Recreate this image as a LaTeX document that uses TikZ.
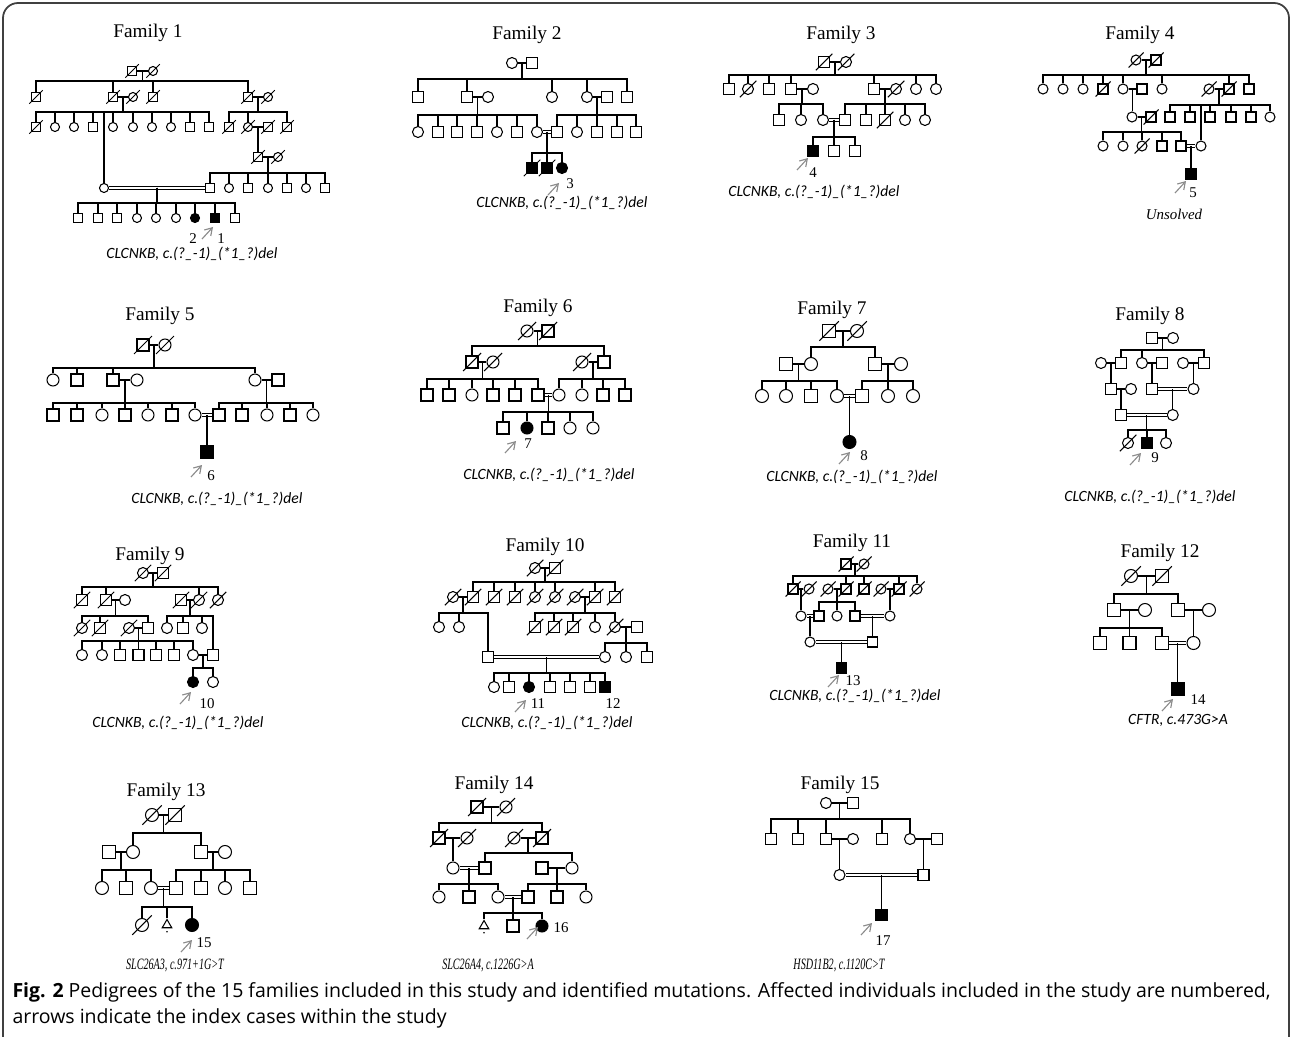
\documentclass[tikz,border=0pt]{standalone}
\usepackage{graphicx}
\usepackage{fontspec}
\setmainfont{Liberation Serif}
\newfontfamily\calfont{Carlito}
\newfontfamily\capfont{Open Sans}
\usetikzlibrary{arrows.meta,calc,shapes.geometric}

% symbol size (changed per family)
\newcommand\symsz{0.2cm}
% couple, consanguineous couple, descent, sibship, index arrow
\newcommand\pcouple[3]{\draw (#1.east) -- (#2.west) coordinate[midway] (#3);}
\newcommand\pcons[3]{\draw[double, double distance=1.5pt] (#1.east) -- (#2.west) coordinate[midway] (#3);}
\newcommand\pdesc[2]{\draw (#1) -- (#1 |- #2.north);}
\newcommand\psibs[3]{\foreach \ch in {#3} {\draw (#1) -- (#1 |- 0,#2) -| (\ch.north);}}
\newcommand\pprb[1]{\draw[prb] (#1) -- ++(11,-12);}

\tikzset{
  ind/.style={draw, inner sep=0pt, minimum size=\symsz},
  sq/.style={ind, rectangle},
  ci/.style={ind, circle},
  sqa/.style={sq, fill=black},
  cia/.style={ci, fill=black},
  dead/.style={append after command={
      ([shift={(-0.75*\symsz,-0.75*\symsz)}]\tikzlastnode.center) edge
      ([shift={(0.75*\symsz,0.75*\symsz)}]\tikzlastnode.center)}},
  sqd/.style={sq, dead},
  cid/.style={ci, dead},
  sqad/.style={sqa, dead},
  tri/.style={draw, regular polygon, regular polygon sides=3, inner sep=0pt, minimum size=0.22cm},
  ttl/.style={font=\fontsize{11}{13}\selectfont, inner sep=0pt},
  num/.style={font=\fontsize{8.5}{10}\selectfont, inner sep=0pt},
  mut/.style={font=\calfont\itshape\fontsize{8.9}{10}\selectfont, inner sep=0pt},
  mutb/.style={font=\itshape\fontsize{9}{10}\selectfont, inner sep=0pt},
  capt/.style={font=\capfont\fontsize{11.1}{13}\selectfont, inner sep=0pt, anchor=west},
  prb/.style={->, gray!90, line width=0.65pt},
}

\begin{document}
\begin{tikzpicture}[x=0.02cm, y=-0.02cm, line width=0.6pt, >={Straight Barb[length=4pt,width=5pt]}]

  \useasboundingbox (0,0) rectangle (1292,1037);
  % frame
  \draw[line width=1pt, black!75, rounded corners=0.3cm] (3,1037) -- (3,3) -- (1289,3) -- (1289,1037);

  %-------------------------
  % Family 1
  %-------------------------
  \renewcommand\symsz{0.18cm}
  \node[ttl] (t1) at (148,33) {Family 1};
  \node[sqd] (A1a) at (132,71) {};
  \node[cid] (A1b) at (153,71) {};
  \pcouple{A1a}{A1b}{A1x}
  \foreach \n/\x/\s in {a/36/sqd,b/113/sqd,c/133/cid,d/153/sqd,e/248/sqd,f/268/cid}
    \node[\s] (A2\n) at (\x,97) {};
  \psibs{A1x}{81}{A2a,A2b,A2d,A2e}
  \pcouple{A2b}{A2c}{A2x}
  \pcouple{A2e}{A2f}{A2y}
  \foreach \n/\x/\s in {a/36/sqd,b/55/ci,c/74/ci,d/93/sq,e/113/ci,f/133/ci,g/152/ci,h/171/ci,i/190/sq,j/209/sq,k/229/sqd,l/248/cid,m/268/sqd,n/287/sqd}
    \node[\s] (A3\n) at (\x,127) {};
  \node[sqd] (A4a) at (258,157) {};
  \node[cid] (A4b) at (278,157) {};
  \foreach \n/\x/\s in {a/104/ci,b/210/sq,c/229/ci,d/248/sq,e/268/ci,f/287/sq,g/306/ci,h/325/sq}
    \node[\s] (A5\n) at (\x,188) {};
  \foreach \n/\x/\s in {a/78/sq,b/98/sq,c/117/sq,d/137/ci,e/156/ci,f/176/ci,g/195/cia,h/215/sqa,i/235/sq}
    \node[\s] (A6\n) at (\x,218) {};
  \psibs{A2x}{112}{A3a,A3b,A3c,A3d,A5a,A3e,A3f,A3g,A3h,A3i,A3j}
  \psibs{A2y}{112}{A3k,A3l,A3n}
  \pcouple{A3l}{A3m}{A3x}
  \pdesc{A3x}{A4a}
  \pcouple{A4a}{A4b}{A4x}
  \psibs{A4x}{173}{A5b,A5c,A5d,A5e,A5f,A5g,A5h}
  \pcons{A5a}{A5b}{A5x}
  \psibs{A5x}{203}{A6a,A6b,A6c,A6d,A6e,A6f,A6g,A6h,A6i}
  \coordinate (A6t) at (202,239);
  \pprb{A6t}
  \node[num] (n2) at (193,239) {2};
  \node[num] (n1) at (221,239) {1};
  \node[mut] (g1) at (192,254) {CLCNKB, c.(?\_-1)\_(*1\_?)del};

  %-------------------------
  % Family 2
  %-------------------------
  \renewcommand\symsz{0.22cm}
  \node[ttl] (t2) at (527,35) {Family 2};
  \node[ci] (B1a) at (512,63) {};
  \node[sq] (B1b) at (532,63) {};
  \pcouple{B1a}{B1b}{B1x}
  \foreach \n/\x/\s in {a/418/sq,b/467/sq,c/488/ci,d/552/ci,e/587/ci,f/607/sq,g/627/sq}
    \node[\s] (B2\n) at (\x,97) {};
  \psibs{B1x}{79}{B2a,B2b,B2d,B2e,B2g}
  \pcouple{B2b}{B2c}{B2x}
  \pcouple{B2e}{B2f}{B2y}
  \foreach \n/\x/\s in {a/418/ci,b/438/sq,c/457/sq,d/477/sq,e/497/ci,f/517/sq,g/537/ci,h/557/sq,i/577/ci,j/597/sq,k/617/sq,l/636/sq}
    \node[\s] (B3\n) at (\x,132) {};
  \psibs{B2x}{115}{B3a,B3b,B3c,B3d,B3e,B3f,B3g}
  \psibs{B2y}{115}{B3h,B3i,B3j,B3k,B3l}
  \pcons{B3g}{B3h}{B3x}
  \foreach \n/\x/\s in {a/532/sqad,b/547/sqad,c/562/cia}
    \node[\s] (B4\n) at (\x,168) {};
  \psibs{B3x}{153}{B4a,B4b,B4c}
  \coordinate (B4t) at (548,195);
  \pprb{B4t}
  \node[num] (n3) at (570,184) {3};
  \node[mut] (g2) at (562,203) {CLCNKB, c.(?\_-1)\_(*1\_?)del};

  %-------------------------
  % Family 3
  %-------------------------
  \node[ttl] (t3) at (841,35) {Family 3};
  \node[sqd] (C1a) at (824,62) {};
  \node[cid] (C1b) at (846,62) {};
  \pcouple{C1a}{C1b}{C1x}
  \foreach \n/\x/\s in {a/729/sq,b/748/cid,c/769/sq,d/791/sq,e/813/ci,f/874/sq,g/896/cid,h/916/ci,i/936/ci}
    \node[\s] (C2\n) at (\x,89) {};
  \psibs{C1x}{75}{C2a,C2b,C2c,C2d,C2f,C2h,C2i}
  \pcouple{C2d}{C2e}{C2x}
  \pcouple{C2f}{C2g}{C2y}
  \foreach \n/\x/\s in {a/779/sq,b/801/ci,c/823/ci,d/845/sq,e/866/sq,f/885/sqd,g/905/ci,h/925/ci}
    \node[\s] (C3\n) at (\x,120) {};
  \psibs{C2x}{104}{C3a,C3b,C3c}
  \psibs{C2y}{104}{C3d,C3e,C3f,C3g,C3h}
  \pcons{C3c}{C3d}{C3x}
  \foreach \n/\x/\s in {a/813/sqa,b/834/sq,c/855/sq}
    \node[\s] (C4\n) at (\x,151) {};
  \psibs{C3x}{137}{C4a,C4b,C4c}
  \coordinate (C4t) at (797,170);
  \pprb{C4t}
  \node[num] (n4) at (813,173) {4};
  \node[mut] (g3) at (814,192) {CLCNKB, c.(?\_-1)\_(*1\_?)del};

  %-------------------------
  % Family 4
  %-------------------------
  \renewcommand\symsz{0.2cm}
  \node[ttl] (t4) at (1140,35) {Family 4};
  \node[cid] (D1a) at (1136,60) {};
  \node[sqd] (D1b) at (1156,60) {};
  \pcouple{D1a}{D1b}{D1x}
  \foreach \n/\x/\s in {a/1043/ci,b/1063/ci,c/1083/ci,d/1103/sqd,e/1123/ci,f/1142/sq,g/1162/ci,h/1209/cid,i/1229/sqd,j/1249/sq}
    \node[\s] (D2\n) at (\x,89) {};
  \psibs{D1x}{75}{D2a,D2b,D2c,D2d,D2e,D2g,D2i,D2j}
  \pcouple{D2e}{D2f}{D2x}
  \pcouple{D2h}{D2i}{D2y}
  \foreach \n/\x/\s in {a/1132/ci,b/1151/sqd,c/1170/sq,d/1190/sq,e/1210/sq,f/1231/sq,g/1251/sq,h/1270/ci}
    \node[\s] (D3\n) at (\x,117) {};
  \foreach \n/\x/\s in {a/1103/ci,b/1123/ci,c/1142/cid,d/1162/sq,e/1181/sq,f/1201/ci}
    \node[\s] (D4\n) at (\x,146) {};
  \pdesc{D2x}{D3a}
  \psibs{D2y}{105}{D3c,D3d,D4f,D3e,D3f,D3g,D3h}
  \pcouple{D3a}{D3b}{D3x}
  \psibs{D3x}{132}{D4a,D4b,D4c,D4d,D4e}
  \pcons{D4e}{D4f}{D4x}
  \node[sqa] (D5a) at (1191,174) {};
  \pdesc{D4x}{D5a}
  \coordinate (D5t) at (1175,193);
  \pprb{D5t}
  \node[num] (n5) at (1193,193) {5};
  \node[font=\itshape\fontsize{8.5}{10}\selectfont, inner sep=0pt] (g4) at (1174,214) {Unsolved};

  %-------------------------
  % Family 5
  %-------------------------
  \renewcommand\symsz{0.24cm}
  \node[ttl] (t5) at (160,316) {Family 5};
  \node[sqd] (E1a) at (143,345) {};
  \node[cid] (E1b) at (165,345) {};
  \pcouple{E1a}{E1b}{E1x}
  \foreach \n/\x/\s in {a/53/ci,b/77/sq,c/113/sq,d/137/ci,e/255/ci,f/278/sq}
    \node[\s] (E2\n) at (\x,380) {};
  \psibs{E1x}{368}{E2a,E2b,E2c,E2e}
  \pcouple{E2c}{E2d}{E2x}
  \pcouple{E2e}{E2f}{E2y}
  \foreach \n/\x/\s in {a/53/sq,b/77/sq,c/102/ci,d/125/sq,e/148/ci,f/172/sq,g/195/ci,h/219/sq,i/242/sq,j/267/ci,k/290/sq,l/313/ci}
    \node[\s] (E3\n) at (\x,415) {};
  \psibs{E2x}{403}{E3a,E3b,E3c,E3d,E3e,E3f,E3g}
  \psibs{E2y}{403}{E3h,E3i,E3j,E3k,E3l}
  \pcons{E3g}{E3h}{E3x}
  \node[sqa] (E4a) at (207,452) {};
  \pdesc{E3x}{E4a}
  \coordinate (E4t) at (191,477);
  \pprb{E4t}
  \node[num] (n6) at (211,476) {6};
  \node[mut] (g5) at (217,499) {CLCNKB, c.(?\_-1)\_(*1\_?)del};

  %-------------------------
  % Family 6
  %-------------------------
  \node[ttl] (t6) at (538,308) {Family 6};
  \node[cid] (F1a) at (527,331) {};
  \node[sqd] (F1b) at (548,331) {};
  \pcouple{F1a}{F1b}{F1x}
  \foreach \n/\x/\s in {a/472/sqd,b/493/cid,c/582/cid,d/604/sq}
    \node[\s] (F2\n) at (\x,362) {};
  \psibs{F1x}{346}{F2a,F2d}
  \pcouple{F2a}{F2b}{F2x}
  \pcouple{F2c}{F2d}{F2y}
  \foreach \n/\x/\s in {a/427/sq,b/449/sq,c/472/ci,d/493/sq,e/515/sq,f/538/sq,g/559/ci,h/582/ci,i/603/sq,j/625/sq}
    \node[\s] (F3\n) at (\x,395) {};
  \psibs{F2x}{379}{F3a,F3b,F3c,F3d,F3e,F3f}
  \psibs{F2y}{379}{F3g,F3h,F3i,F3j}
  \pcons{F3f}{F3g}{F3x}
  \foreach \n/\x/\s in {a/503/sq,b/527/cia,c/548/sq,d/570/ci,e/593/ci}
    \node[\s] (F4\n) at (\x,428) {};
  \psibs{F3x}{412}{F4a,F4b,F4c,F4d,F4e}
  \coordinate (F4t) at (505,453);
  \pprb{F4t}
  \node[num] (n7) at (528,444) {7};
  \node[mut] (g6) at (549,475) {CLCNKB, c.(?\_-1)\_(*1\_?)del};

  %-------------------------
  % Family 7
  %-------------------------
  \renewcommand\symsz{0.26cm}
  \node[ttl] (t7) at (832,310) {Family 7};
  \node[sqd] (G1a) at (829,331) {};
  \node[cid] (G1b) at (857,331) {};
  \pcouple{G1a}{G1b}{G1x}
  \foreach \n/\x/\s in {a/786/sq,b/811/ci,c/875/sq,d/901/ci}
    \node[\s] (G2\n) at (\x,364) {};
  \psibs{G1x}{347}{G2b,G2c}
  \pcouple{G2a}{G2b}{G2x}
  \pcouple{G2c}{G2d}{G2y}
  \foreach \n/\x/\s in {a/762/ci,b/786/ci,c/811/sq,d/837/ci,e/862/sq,f/888/ci,g/913/ci}
    \node[\s] (G3\n) at (\x,396) {};
  \psibs{G2x}{381}{G3a,G3b,G3c,G3d}
  \psibs{G2y}{381}{G3e,G3f,G3g}
  \pcons{G3d}{G3e}{G3x}
  \node[cia] (G4a) at (849.5,442) {};
  \pdesc{G3x}{G4a}
  \coordinate (G4t) at (839,464);
  \pprb{G4t}
  \node[num] (n8) at (864,456) {8};
  \node[mut] (g7) at (852,477) {CLCNKB, c.(?\_-1)\_(*1\_?)del};

  %-------------------------
  % Family 8
  %-------------------------
  \renewcommand\symsz{0.22cm}
  \node[ttl] (t8) at (1150,316) {Family 8};
  \node[sq] (H1a) at (1152,338) {};
  \node[ci] (H1b) at (1173,338) {};
  \pcouple{H1a}{H1b}{H1x}
  \foreach \n/\x/\s in {a/1101/ci,b/1121/sq,c/1142/ci,d/1162/sq,e/1183/ci,f/1204/sq}
    \node[\s] (H2\n) at (\x,363) {};
  \psibs{H1x}{350}{H2b,H2c,H2f}
  \pcouple{H2a}{H2b}{H2x}
  \pcouple{H2c}{H2d}{H2y}
  \pcouple{H2e}{H2f}{H2z}
  \foreach \n/\x/\s in {a/1111/sq,b/1131/ci,c/1152/sq,d/1193.5/ci}
    \node[\s] (H3\n) at (\x,389) {};
  \pdesc{H2x}{H3a}
  \pdesc{H2y}{H3c}
  \pdesc{H2z}{H3d}
  \pcouple{H3a}{H3b}{H3x}
  \pcons{H3c}{H3d}{H3y}
  \node[sq] (H4a) at (1121,415) {};
  \node[ci] (H4b) at (1172.75,415) {};
  \pdesc{H3x}{H4a}
  \pdesc{H3y}{H4b}
  \pcons{H4a}{H4b}{H4x}
  \foreach \n/\x/\s in {a/1128/cid,b/1147/sqa,c/1166/ci}
    \node[\s] (H5\n) at (\x,443) {};
  \psibs{H4x}{430}{H5a,H5b,H5c}
  \coordinate (H5t) at (1130,465);
  \pprb{H5t}
  \node[num] (n9) at (1155,458) {9};
  \node[mut] (g8) at (1150,497) {CLCNKB, c.(?\_-1)\_(*1\_?)del};

  %-------------------------
  % Family 9
  %-------------------------
  \node[ttl] (t9) at (150,556) {Family 9};
  \node[cid] (I1a) at (143,573) {};
  \node[sqd] (I1b) at (163,573) {};
  \pcouple{I1a}{I1b}{I1x}
  \foreach \n/\x/\s in {a/82/sqd,b/106/sqd,c/125/ci,d/181/sqd,e/199/cid,f/218/cid}
    \node[\s] (I2\n) at (\x,600) {};
  \psibs{I1x}{587}{I2a,I2b,I2e,I2f}
  \pcouple{I2b}{I2c}{I2x}
  \pcouple{I2d}{I2e}{I2y}
  \foreach \n/\x/\s in {a/82/cid,b/100/sqd,c/129/cid,d/148/sq,e/167/ci,f/183/sq,g/202/ci}
    \node[\s] (I3\n) at (\x,628) {};
  \foreach \n/\x/\s in {a/82/ci,b/102/ci,c/120/sq,d/138.5/sq,e/156/sq,f/174/sq,g/193/ci,h/213/sq}
    \node[\s] (I4\n) at (\x,655) {};
  \psibs{I2x}{616}{I3a,I3b,I3d}
  \psibs{I2y}{616}{I3e,I3f,I3g,I4h}
  \pcouple{I3c}{I3d}{I3x}
  \psibs{I3x}{641}{I4a,I4b,I4c,I4d,I4e,I4f,I4g}
  \pcouple{I4g}{I4h}{I4x}
  \foreach \n/\x/\s in {a/193/cia,b/213/ci}
    \node[\s] (I5\n) at (\x,682) {};
  \psibs{I4x}{668}{I5a,I5b}
  \coordinate (I5t) at (180,704);
  \pprb{I5t}
  \node[num] (n10) at (207,704) {10};
  \node[mut] (g9) at (178,723) {CLCNKB, c.(?\_-1)\_(*1\_?)del};

  %-------------------------
  % Family 10
  %-------------------------
  \node[ttl] (t10) at (545,547) {Family 10};
  \node[cid] (J1a) at (535,568) {};
  \node[sqd] (J1b) at (555,568) {};
  \pcouple{J1a}{J1b}{J1x}
  \foreach \n/\x/\s in {a/453/cid,b/473/sqd,c/494/sqd,d/515/sqd,e/535/cid,f/555/cid,g/575/cid,h/595/sqd,i/615/sqd}
    \node[\s] (J2\n) at (\x,597) {};
  \psibs{J1x}{582}{J2b,J2c,J2d,J2e,J2f,J2h,J2i}
  \pcouple{J2a}{J2b}{J2x}
  \pcouple{J2g}{J2h}{J2y}
  \foreach \n/\x/\s in {a/439/ci,b/459/ci,c/535/sqd,d/554/sqd,e/573/sqd,f/595/ci,g/615/cid,h/637/sq}
    \node[\s] (J3\n) at (\x,627) {};
  \foreach \n/\x/\s in {a/488/sq,b/605/ci,c/626/ci,d/647/sq}
    \node[\s] (J4\n) at (\x,657) {};
  \psibs{J2x}{613}{J3a,J3b,J4a}
  \psibs{J2y}{613}{J3c,J3d,J3e,J3f,J3g}
  \pcouple{J3g}{J3h}{J3x}
  \psibs{J3x}{643}{J4b,J4c,J4d}
  \pcons{J4a}{J4b}{J4x}
  \foreach \n/\x/\s in {a/494/ci,b/509/sq,c/529/cia,d/550/sq,e/570/sq,f/590/sq,g/605/sqa}
    \node[\s] (J5\n) at (\x,687) {};
  \psibs{J4x}{673}{J5a,J5b,J5c,J5d,J5e,J5f,J5g}
  \coordinate (J5t) at (515,712);
  \pprb{J5t}
  \node[num] (n11) at (538,704) {11};
  \node[num] (n12) at (613,704) {12};
  \node[mut] (g10) at (547,723) {CLCNKB, c.(?\_-1)\_(*1\_?)del};

  %-------------------------
  % Family 11
  %-------------------------
  \renewcommand\symsz{0.2cm}
  \node[ttl] (t11) at (852,543) {Family 11};
  \node[sqd] (K1a) at (846,564) {};
  \node[cid] (K1b) at (864,564) {};
  \pcouple{K1a}{K1b}{K1x}
  \foreach \n/\x/\s in {a/793/sqd,b/809/cid,c/828/cid,d/846/sqd,e/864/sqd,f/881/cid,g/899/sqd,h/917/cid}
    \node[\s] (K2\n) at (\x,589) {};
  \psibs{K1x}{576}{K2a,K2d,K2e,K2g,K2h}
  \pcouple{K2a}{K2b}{K2x}
  \pcouple{K2c}{K2d}{K2y}
  \pcouple{K2f}{K2g}{K2z}
  \foreach \n/\x/\s in {a/801/ci,b/819/sq,c/837/ci,d/855/sq,e/890/ci}
    \node[\s] (K3\n) at (\x,616) {};
  \pdesc{K2x}{K3a}
  \psibs{K2y}{602}{K3b,K3c,K3d}
  \pdesc{K2z}{K3e}
  \pcons{K3a}{K3b}{K3x}
  \pcons{K3d}{K3e}{K3y}
  \node[ci] (K4a) at (810,642) {};
  \node[sq] (K4b) at (872.5,642) {};
  \pdesc{K3x}{K4a}
  \pdesc{K3y}{K4b}
  \pcons{K4a}{K4b}{K4x}
  \node[sqa] (K5a) at (841.25,668) {};
  \pdesc{K4x}{K5a}
  \coordinate (K5t) at (828,687);
  \pprb{K5t}
  \node[num] (n13) at (853,681) {13};
  \node[mut] (g11) at (855,696) {CLCNKB, c.(?\_-1)\_(*1\_?)del};

  %-------------------------
  % Family 12
  %-------------------------
  \renewcommand\symsz{0.26cm}
  \node[ttl] (t12) at (1160,553) {Family 12};
  \node[cid] (L1a) at (1131,576) {};
  \node[sqd] (L1b) at (1162,576) {};
  \pcouple{L1a}{L1b}{L1x}
  \foreach \n/\x/\s in {a/1114/sq,b/1145/ci,c/1178/sq,d/1209/ci}
    \node[\s] (L2\n) at (\x,610) {};
  \psibs{L1x}{594}{L2a,L2c}
  \pcouple{L2a}{L2b}{L2x}
  \pcouple{L2c}{L2d}{L2y}
  \foreach \n/\x/\s in {a/1100/sq,b/1129.5/sq,c/1162/sq,d/1193.5/ci}
    \node[\s] (L3\n) at (\x,643) {};
  \psibs{L2x}{628}{L3a,L3b,L3c}
  \pdesc{L2y}{L3d}
  \pcons{L3c}{L3d}{L3x}
  \node[sqa] (L4a) at (1177.75,689) {};
  \pdesc{L3x}{L4a}
  \coordinate (L4t) at (1162,711);
  \pprb{L4t}
  \node[num] (n14) at (1198,700) {14};
  \node[mut] (g12) at (1178,720) {CFTR, c.473G>A};

  %-------------------------
  % Family 13
  %-------------------------
  \node[ttl] (t13) at (166,792) {Family 13};
  \node[cid] (M1a) at (152,815) {};
  \node[sqd] (M1b) at (175,815) {};
  \pcouple{M1a}{M1b}{M1x}
  \foreach \n/\x/\s in {a/109/sq,b/133/ci,c/201/sq,d/225/ci}
    \node[\s] (M2\n) at (\x,852) {};
  \psibs{M1x}{833}{M2b,M2c}
  \pcouple{M2a}{M2b}{M2x}
  \pcouple{M2c}{M2d}{M2y}
  \foreach \n/\x/\s in {a/102/ci,b/126/sq,c/151/ci,d/176/sq,e/201/sq,f/225/ci,g/250/sq}
    \node[\s] (M3\n) at (\x,888) {};
  \psibs{M2x}{870}{M3a,M3b,M3c}
  \psibs{M2y}{870}{M3d,M3e,M3f,M3g}
  \pcons{M3c}{M3d}{M3x}
  \foreach \n/\x/\s in {a/142/cid,b/167/tri,c/192/cia}
    \node[\s] (M4\n) at (\x,925) {};
  \fill (M4b.south) ++(0pt,-2pt) circle (0.5pt);
  \psibs{M3x}{907}{M4a,M4b,M4c}
  \coordinate (M4t) at (181,952);
  \pprb{M4t}
  \node[num] (n15) at (204,943) {15};
  \node[mutb] (g13) at (175,965) {\scalebox{0.64}[1]{SLC26A3, c.971+1G>T}};

  %-------------------------
  % Family 14
  %-------------------------
  \renewcommand\symsz{0.24cm}
  \node[ttl] (t14) at (494,785) {Family 14};
  \node[sqd] (N1a) at (477,807) {};
  \node[cid] (N1b) at (506,807) {};
  \pcouple{N1a}{N1b}{N1x}
  \foreach \n/\x/\s in {a/439/sqd,b/467/cid,c/514/cid,d/542/sqd}
    \node[\s] (N2\n) at (\x,838) {};
  \psibs{N1x}{823}{N2a,N2d}
  \pcouple{N2a}{N2b}{N2x}
  \pcouple{N2c}{N2d}{N2y}
  \foreach \n/\x/\s in {a/453/ci,b/485/sq,c/542/sq,d/572/ci}
    \node[\s] (N3\n) at (\x,868) {};
  \pdesc{N2x}{N3a}
  \psibs{N2y}{853}{N3b,N3d}
  \pcons{N3a}{N3b}{N3x}
  \pcouple{N3c}{N3d}{N3y}
  \foreach \n/\x/\s in {a/439/ci,b/469/sq,c/498/ci,d/528/sq,e/557/sq,f/586/ci}
    \node[\s] (N4\n) at (\x,897) {};
  \psibs{N3x}{884}{N4a,N4b,N4c}
  \psibs{N3y}{884}{N4d,N4e,N4f}
  \pcons{N4c}{N4d}{N4x}
  \foreach \n/\x/\s in {a/484/tri,b/513/sq,c/542/cia}
    \node[\s] (N5\n) at (\x,926) {};
  \fill (N5a.south) ++(0pt,-2pt) circle (0.5pt);
  \psibs{N4x}{913}{N5a,N5b,N5c}
  \coordinate (N5t) at (527,939);
  \pprb{N5t}
  \node[num] (n16) at (561,928) {16};
  \node[mutb] (g14) at (488,965) {\scalebox{0.64}[1]{SLC26A4, c.1226G>A}};

  %-------------------------
  % Family 15
  %-------------------------
  \renewcommand\symsz{0.22cm}
  \node[ttl] (t15) at (840,785) {Family 15};
  \node[ci] (O1a) at (826,803) {};
  \node[sq] (O1b) at (853,803) {};
  \pcouple{O1a}{O1b}{O1x}
  \foreach \n/\x/\s in {a/771/sq,b/798/sq,c/826/sq,d/853/ci,e/882/sq,f/910/ci,g/937/sq}
    \node[\s] (O2\n) at (\x,839) {};
  \psibs{O1x}{819}{O2a,O2b,O2c,O2e,O2f}
  \pcouple{O2c}{O2d}{O2x}
  \pcouple{O2f}{O2g}{O2y}
  \node[ci] (O3a) at (839.5,875) {};
  \node[sq] (O3b) at (923.5,875) {};
  \pdesc{O2x}{O3a}
  \pdesc{O2y}{O3b}
  \pcons{O3a}{O3b}{O3x}
  \node[sqa] (O4a) at (881.5,915) {};
  \pdesc{O3x}{O4a}
  \coordinate (O4t) at (861,935);
  \pprb{O4t}
  \node[num] (n17) at (883,941) {17};
  \node[mutb] (g15) at (839,965) {\scalebox{0.64}[1]{HSD11B2, c.1120C>T}};

  %-------------------------
  % Caption
  %-------------------------
  \node[capt] (cap1) at (12,992) {\textbf{Fig. 2} Pedigrees of the 15 families included in this study and identified mutations. Affected individuals included in the study are numbered,};
  \node[capt] (cap2) at (12,1018) {arrows indicate the index cases within the study};

\end{tikzpicture}
\end{document}
